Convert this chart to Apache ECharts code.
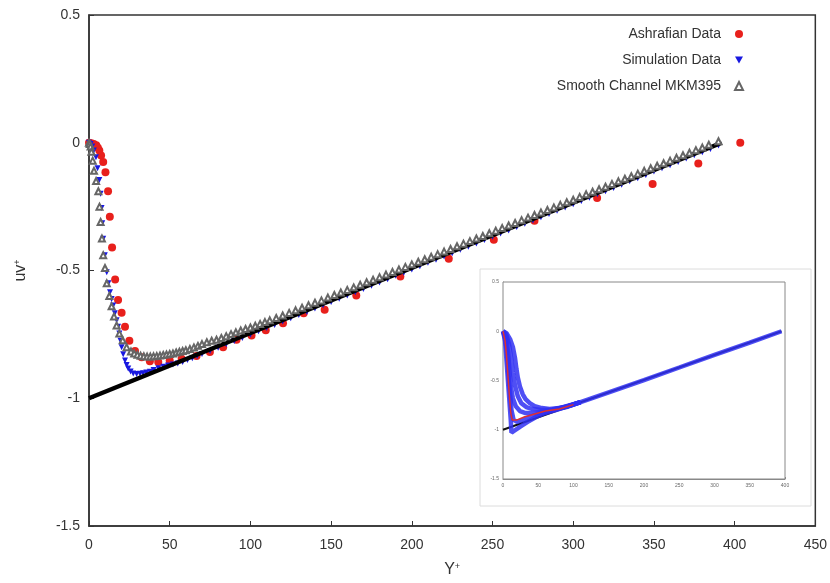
<!DOCTYPE html>
<html><head><meta charset="utf-8">
<script src="https://cdn.jsdelivr.net/npm/echarts@6/dist/echarts.min.js"></script>
<style>html,body{margin:0;padding:0;background:#fff}#c{width:830px;height:583px}</style>
</head><body><div id="c"></div>
<script>
// ---------- DATA ----------
var xTicks = [0, 50, 100, 150, 200, 250, 300, 350, 400, 450];
var yTicks = [-1.5, -1, -0.5, 0, 0.5];
var seriesNames = ['Ashrafian Data', 'Simulation Data', 'Smooth Channel MKM395'];

var ashrafian = [[0,0],[1.5,-0.002],[3,-0.005],[4.5,-0.01],[5.5,-0.02],[6.4,-0.03],[7.5,-0.05],[8.8,-0.075],
 [10.2,-0.115],[11.8,-0.19],[12.9,-0.29],[14.3,-0.41],[16.2,-0.535],[18,-0.615],[20.2,-0.665],[22.3,-0.72],
 [25,-0.775],[28.5,-0.815],[32.6,-0.84],[37.7,-0.855],[42.9,-0.858],[50,-0.852],[57.4,-0.845],[66.6,-0.835],
 [74.9,-0.819],[83.1,-0.8],[91.4,-0.771],[100.7,-0.754],[109.5,-0.734],[120.2,-0.706],[133,-0.667],[146,-0.654],
 [165.6,-0.598],[192.9,-0.523],[222.9,-0.454],[250.8,-0.38],[276,-0.305],[314.8,-0.216],[349.2,-0.161],
 [377.5,-0.081],[403.5,0.0]];

var simulation = [[0,0],[1,-0.005],[2,-0.015],[3,-0.03],[4.3,-0.057],[5.3,-0.1],[6.4,-0.146],[7.2,-0.2],
 [7.8,-0.255],[8.2,-0.315],[8.8,-0.376],[9.8,-0.44],[11,-0.507],[12,-0.55],[13,-0.585],[14,-0.612],[15,-0.637],
 [16,-0.667],[17.1,-0.695],[18,-0.72],[18.8,-0.747],[19.5,-0.775],[20.2,-0.8],[21.2,-0.828],[22.3,-0.852],
 [23.3,-0.87],[24.3,-0.884],[25.8,-0.895],[27.4,-0.903],[29.5,-0.905],[31.6,-0.904],[33.5,-0.902],[35.5,-0.899],
 [37.7,-0.896],[40,-0.889],[43,-0.883],[46,-0.877],[49,-0.872],[52,-0.868],[55,-0.864],[58,-0.858],[61,-0.85],
 [64,-0.843],[67,-0.835],[70,-0.827],[75,-0.815],[80,-0.802],[85,-0.789],[90,-0.776],[95,-0.764],[100,-0.751],
 [105,-0.738],[110,-0.725],[115,-0.713],[120,-0.7],[125,-0.687],[130,-0.674],[135,-0.662],[140,-0.649],
 [145,-0.636],[150,-0.623],[155,-0.611],[160,-0.598],[165,-0.585],[170,-0.572],[175,-0.56],[180,-0.547],
 [185,-0.534],[190,-0.521],[195,-0.509],[200,-0.496],[205,-0.483],[210,-0.47],[215,-0.458],[220,-0.445],
 [225,-0.432],[230,-0.419],[235,-0.407],[240,-0.394],[245,-0.381],[250,-0.368],[255,-0.355],[260,-0.343],
 [265,-0.33],[270,-0.317],[275,-0.304],[280,-0.292],[285,-0.279],[290,-0.266],[295,-0.253],[300,-0.241],
 [305,-0.228],[310,-0.215],[315,-0.202],[320,-0.19],[325,-0.177],[330,-0.164],[335,-0.151],[340,-0.139],
 [345,-0.126],[350,-0.113],[355,-0.1],[360,-0.088],[365,-0.075],[370,-0.062],[375,-0.049],[380,-0.037],
 [385,-0.024],[390,-0.011]];

var mkm395 = [[0,0],[0.5,-0.005],[1,-0.015],[1.5,-0.035],[2.3,-0.07],[3.1,-0.11],[4.4,-0.15],[5.8,-0.19],
 [6.5,-0.25],[7.2,-0.31],[8,-0.375],[8.8,-0.44],[9.9,-0.49],[11,-0.55],[12.6,-0.6],[14,-0.64],[15.5,-0.68],
 [17.1,-0.715],[18.8,-0.747],[20.9,-0.773],[23.3,-0.8],[26,-0.817],[28,-0.825],[30,-0.83],[32,-0.834],
 [34,-0.836],[36,-0.837],[38,-0.837],[40,-0.836],[42,-0.835],[44,-0.833],[46,-0.831],[48,-0.829],[50,-0.827],
 [52,-0.825],[54,-0.821],[56,-0.818],[58,-0.815],[60,-0.812],[62.5,-0.807],[65,-0.801],[67.5,-0.795],
 [70,-0.788],[73,-0.781],[76,-0.775],[79,-0.771],[82,-0.764],[85,-0.757],[88,-0.749],[91,-0.742],[94,-0.735],
 [97,-0.729],[100,-0.723],[103,-0.716],[106,-0.709],[109,-0.702],[112,-0.695],[116,-0.686],[120,-0.676],
 [124,-0.666],[128,-0.656],[132,-0.646],[136,-0.636],[140,-0.626],[144,-0.617],[148,-0.606],[152,-0.596],
 [156,-0.586],[160,-0.576],[164,-0.566],[168,-0.556],[172,-0.546],[176,-0.536],[180,-0.526],[184,-0.516],
 [188,-0.506],[192,-0.496],[196,-0.486],[200,-0.476],[204,-0.466],[208,-0.456],[212,-0.446],[216,-0.436],
 [220,-0.426],[224,-0.416],[228,-0.405],[232,-0.395],[236,-0.385],[240,-0.375],[244,-0.365],[248,-0.354],
 [252,-0.344],[256,-0.334],[260,-0.324],[264,-0.314],[268,-0.303],[272,-0.293],[276,-0.283],[280,-0.273],
 [284,-0.263],[288,-0.253],[292,-0.243],[296,-0.233],[300,-0.223],[304,-0.212],[308,-0.202],[312,-0.192],
 [316,-0.182],[320,-0.172],[324,-0.161],[328,-0.151],[332,-0.141],[336,-0.131],[340,-0.121],[344,-0.11],
 [348,-0.1],[352,-0.09],[356,-0.08],[360,-0.07],[364,-0.059],[368,-0.049],[372,-0.039],[376,-0.029],
 [380,-0.019],[384,-0.008],[390,0.006]];

var totalStress = [[0,-1],[392,0]];

// inset
var insetXTicks = [0, 50, 100, 150, 200, 250, 300, 350, 400];
var insetYTicks = [-1.5, -1, -0.5, 0, 0.5];
var insetLine = [[0,-1],[395,0]];
var insetBlueUpper = [[0,0],[5,-0.02],[10,-0.08],[14,-0.16],[17,-0.27],[19,-0.38],[21,-0.47],[24,-0.56],[28,-0.64],
 [32,-0.69],[38,-0.73],[45,-0.76],[55,-0.78],[66,-0.79],[80,-0.78],[95,-0.755],[110,-0.72],[150,-0.62],
 [200,-0.495],[250,-0.368],[300,-0.24],[350,-0.115],[395,0]];
var insetBlueMid1 = [[0,0],[4.5,-0.03],[8.5,-0.13],[11.5,-0.27],[14,-0.42],[17,-0.55],[21,-0.66],[26,-0.73],
 [33,-0.77],[42,-0.79],[55,-0.8],[70,-0.795],[90,-0.765],[110,-0.72]];
var insetBlueMid2 = [[0,0],[4,-0.05],[7,-0.2],[9,-0.38],[11,-0.55],[14,-0.68],[18,-0.76],[24,-0.81],[32,-0.83],
 [42,-0.83],[55,-0.82],[70,-0.8],[90,-0.77],[110,-0.72]];
var insetBlueMid3 = [[0,0],[3.5,-0.08],[6,-0.25],[8,-0.45],[10,-0.63],[12,-0.8],[15,-0.9],[20,-0.92],[28,-0.9],
 [38,-0.87],[50,-0.84],[65,-0.81],[85,-0.77],[110,-0.72]];
var insetBlueLower = [[0,0],[3,-0.1],[5,-0.3],[7,-0.5],[9,-0.7],[11,-0.9],[12,-1.03],[16,-1.01],[24,-0.97],
 [35,-0.92],[47,-0.87],[60,-0.83],[75,-0.8],[95,-0.755],[110,-0.72]];
var insetRed = [[0,0],[3,-0.1],[5,-0.25],[7,-0.45],[9,-0.65],[11,-0.83],[13,-0.9],[20,-0.9],[30,-0.87],
 [45,-0.84],[60,-0.81],[80,-0.79],[100,-0.745]];

// ---------- CHART ----------
var RED = '#e8201c', BLUE = '#1818e0', GRAY = '#666666';
var chart = echarts.init(document.getElementById('c'), null, {renderer: 'canvas'});
var font = 'Liberation Sans, Arial, sans-serif';

function blueInset(data) {
  return {type: 'line', xAxisIndex: 1, yAxisIndex: 1, data: data, symbol: 'none', silent: true,
    lineStyle: {color: '#3030f2', width: 4.5, opacity: 0.85}, z: 3, animation: false};
}

var option = {
  backgroundColor: '#fff',
  animation: false,
  textStyle: {fontFamily: font},
  legend: {
    orient: 'vertical', right: 81, top: 22, align: 'right', itemGap: 12,
    itemWidth: 8, itemHeight: 8,
    textStyle: {fontSize: 14, color: '#333', fontFamily: font, padding: [0, 9, 0, 0]},
    data: [
      {name: seriesNames[0], icon: 'circle'},
      {name: seriesNames[1], icon: 'path://M0,0 L10,0 L5,9 Z'},
      {name: seriesNames[2], icon: 'emptyTriangle'}
    ]
  },
  grid: [
    {left: 89, right: 12, top: 15, bottom: 57, show: true, borderColor: '#333', borderWidth: 1.5, backgroundColor: 'transparent'},
    {left: 503, top: 282, width: 282, height: 197, show: true, borderColor: '#888', borderWidth: 1, backgroundColor: '#fff', z: 1}
  ],
  graphic: [{type: 'rect', shape: {x: 480, y: 269, width: 331, height: 237}, style: {fill: 'none', stroke: '#dcdcdc', lineWidth: 1}, z: 0}],
  xAxis: [
    {type: 'value', gridIndex: 0, min: xTicks[0], max: xTicks[xTicks.length - 1], interval: 50,
     splitLine: {show: false},
     axisLine: {onZero: false, lineStyle: {color: '#333', width: 1.5}},
     axisTick: {inside: true, length: 5, lineStyle: {color: '#333'}},
     axisLabel: {fontSize: 14, color: '#333', margin: 12, fontFamily: font},
     name: '{a|Y}{s|+}', nameLocation: 'middle', nameGap: 36,
     nameTextStyle: {rich: {a: {fontSize: 16, color: '#333', fontFamily: font}, s: {fontSize: 9, color: '#333', verticalAlign: 'top', fontFamily: font}}}
    },
    {type: 'value', gridIndex: 1, min: insetXTicks[0], max: insetXTicks[insetXTicks.length - 1], interval: 50,
     splitLine: {show: false},
     axisLine: {onZero: false, lineStyle: {color: '#888', width: 1}},
     axisTick: {inside: true, length: 2, lineStyle: {color: '#888'}},
     axisLabel: {fontSize: 5, color: '#666', margin: 4, fontFamily: font}
    }
  ],
  yAxis: [
    {type: 'value', gridIndex: 0, min: yTicks[0], max: yTicks[yTicks.length - 1], interval: 0.5,
     splitLine: {show: false},
     axisLine: {onZero: false, lineStyle: {color: '#333', width: 1.5}},
     axisTick: {inside: true, length: 5, lineStyle: {color: '#333'}},
     axisLabel: {fontSize: 14, color: '#333', margin: 9, fontFamily: font},
     name: '{a|uv}{s|+}', nameLocation: 'middle', nameGap: 60,
     nameTextStyle: {rich: {a: {fontSize: 16, color: '#333', fontFamily: font}, s: {fontSize: 9, color: '#333', verticalAlign: 'top', fontFamily: font}}}
    },
    {type: 'value', gridIndex: 1, min: insetYTicks[0], max: insetYTicks[insetYTicks.length - 1], interval: 0.5,
     splitLine: {show: false},
     axisLine: {onZero: false, lineStyle: {color: '#888', width: 1}},
     axisTick: {inside: true, length: 2, lineStyle: {color: '#888'}},
     axisLabel: {fontSize: 5, color: '#666', margin: 4, fontFamily: font}
    }
  ],
  series: [
    {name: seriesNames[0], type: 'scatter', data: ashrafian, symbol: 'circle', symbolSize: 8,
     itemStyle: {color: RED, opacity: 1}, z: 2},
    {name: seriesNames[1], type: 'scatter', data: simulation, symbol: 'triangle', symbolRotate: 180, symbolSize: 6,
     itemStyle: {color: BLUE, opacity: 1}, z: 3},
    {name: 'Total stress', type: 'line', data: totalStress, symbol: 'none', silent: true,
     lineStyle: {color: '#000', width: 4.5}, z: 4},
    {name: seriesNames[2], type: 'scatter', data: mkm395, symbol: 'emptyTriangle', symbolSize: 6,
     itemStyle: {color: GRAY, borderWidth: 1, opacity: 1}, z: 5},
    blueInset(insetBlueLower), blueInset(insetBlueMid3), blueInset(insetBlueMid2), blueInset(insetBlueMid1), blueInset(insetBlueUpper),
    {type: 'line', xAxisIndex: 1, yAxisIndex: 1, data: insetRed, symbol: 'none', silent: true,
     lineStyle: {color: '#e03030', width: 1.5}, z: 4},
    {type: 'line', xAxisIndex: 1, yAxisIndex: 1, data: insetLine, symbol: 'none', silent: true,
     lineStyle: {color: '#111', width: 2}, z: 2}
  ]
};
chart.setOption(option);
</script></body></html>
